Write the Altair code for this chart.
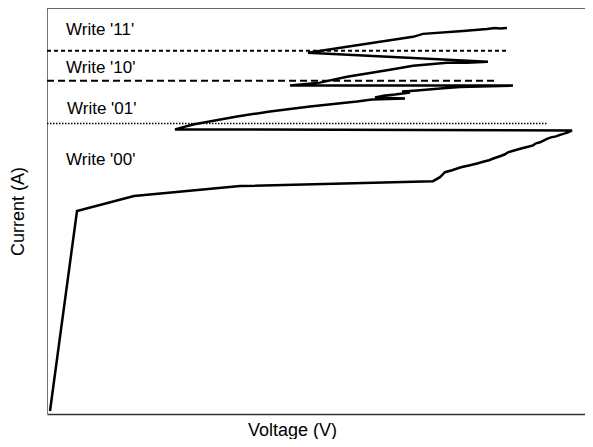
import altair as alt
import pandas as pd

# Traced I-V sweep (arbitrary units), in drawing order
volt = [3, 30, 87, 193, 386, 393, 398, 405, 414, 423, 431, 438, 442, 447, 453, 458, 461,
        468, 475, 481, 486, 489, 493, 497, 500, 504, 509, 513, 518, 521, 525,
        128,
        146, 190, 223, 263, 310, 325, 358, 328, 338, 348, 363, 355, 370, 393, 413, 466,
        243,
        273, 300, 343, 366, 400, 420, 441,
        261,
        300, 333, 366, 376, 416, 440, 448, 453, 460]
curr = [3, 204, 219, 229, 234, 238, 243, 245, 248, 250, 252, 254, 255, 257, 259, 261, 263,
        265, 267, 268.5, 270, 272, 273, 275, 276.5, 278, 279, 280.5, 282, 283, 285,
        286,
        291, 299, 304, 309, 314, 316, 317, 318, 320, 321, 323, 324, 325, 327, 328.5, 330,
        330,
        333, 339, 346, 350, 353, 353, 354,
        363,
        369, 374, 379, 382, 385, 387, 388, 387.5, 388]

# Threshold levels
lvl_names = ["11", "10", "01"]
lvl_curr = [365, 335, 292]
lvl_vend = [460, 451, 500]

# Labels
lab_text = ["Write '11'", "Write '10'", "Write '01'", "Write '00'"]
lab_volt = [19, 19, 20, 19]
lab_curr = [386, 348, 307, 255]

XMAX, YMAX = 538, 408
W, H = 538, 406

sweep = pd.DataFrame({"V": volt, "I": curr, "i": range(len(volt))})
levels = pd.DataFrame({"name": lvl_names, "I": lvl_curr, "V0": [0, 0, 0], "V1": lvl_vend})
labels = pd.DataFrame({"t": lab_text, "V": lab_volt, "I": lab_curr})
top = pd.DataFrame({"V0": [0], "V1": [XMAX], "I": [YMAX]})

xs = alt.Scale(domain=[0, XMAX], nice=False, zero=False)
ys = alt.Scale(domain=[0, YMAX], nice=False, zero=False)

xax = alt.Axis(title="Voltage (V)", labels=False, ticks=False, grid=False,
               domainColor="#333333", domainWidth=1.5, titlePadding=7,
               titleX=245, titleAlign="center",
               titleFontSize=18, titleFont="Liberation Sans", titleFontWeight="normal",
               titleColor="black")
yax = alt.Axis(title="Current (A)", labels=False, ticks=False, grid=False,
               domainColor="#777777", domainWidth=1, titlePadding=20,
               titleFontSize=18, titleFont="Liberation Sans", titleFontWeight="normal",
               titleColor="black")

line = alt.Chart(sweep).mark_line(color="black", strokeWidth=2.5, strokeJoin="miter").encode(
    x=alt.X("V:Q", scale=xs, axis=xax),
    y=alt.Y("I:Q", scale=ys, axis=yax),
    order="i:Q",
)

dashes = {"11": [4, 3], "10": [7, 4], "01": [1.5, 1.5]}
widths = {"11": 2, "10": 2, "01": 1.5}
rules = []
for n in lvl_names:
    rules.append(
        alt.Chart(levels[levels["name"] == n]).mark_rule(
            color="black", strokeDash=dashes[n], strokeWidth=widths[n]
        ).encode(x=alt.X("V0:Q", scale=xs), x2="V1:Q", y=alt.Y("I:Q", scale=ys))
    )

topline = alt.Chart(top).mark_rule(color="#333333", strokeWidth=1.5).encode(
    x=alt.X("V0:Q", scale=xs), x2="V1:Q", y=alt.Y("I:Q", scale=ys)
)

text = alt.Chart(labels).mark_text(
    align="left", baseline="middle", fontSize=17, font="Liberation Sans", color="black"
).encode(x=alt.X("V:Q", scale=xs), y=alt.Y("I:Q", scale=ys), text="t:N")

chart = alt.layer(topline, *rules, line, text).properties(
    width=W, height=H,
    padding={"left": 39, "top": 0, "right": 0, "bottom": 25},
    autosize=alt.AutoSizeParams(type="none"),
).configure_view(stroke=None)

chart.save("out.html", embed_options={"renderer": "svg", "actions": False})
